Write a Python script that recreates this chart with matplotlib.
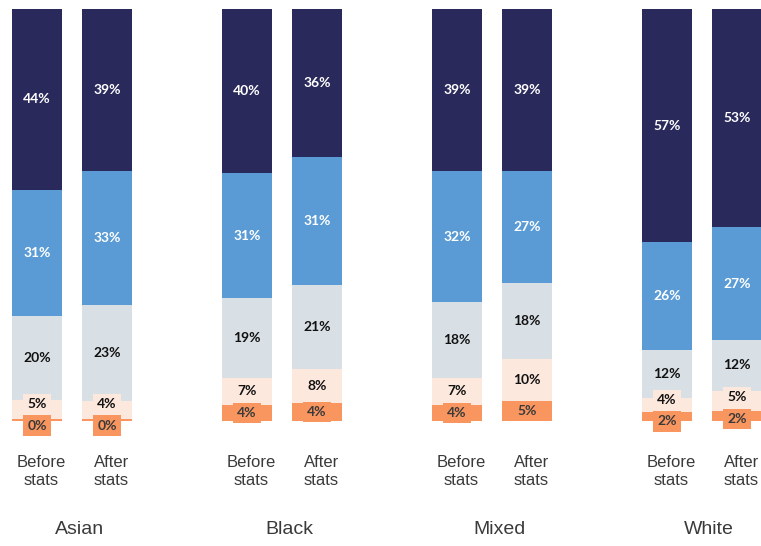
import matplotlib.pyplot as plt
import numpy as np

groups = ['Asian', 'Black', 'Mixed', 'White']
stages = ['Before\nstats', 'After\nstats']

# share of each band (%), bottom -> top, one row per bar: Before, After for each group
orange = [[0.3, 0.4], [3.8, 4.2], [3.8, 4.8], [2.0, 2.4]]
peach = [[4.6, 4.4], [6.6, 8.3], [6.6, 10.1], [3.6, 4.9]]
grey = [[20.5, 23.3], [19.3, 20.6], [18.4, 18.5], [11.5, 12.3]]
blue = [[30.8, 32.6], [30.6, 31.0], [31.8, 27.2], [26.3, 27.4]]
navy = [[43.8, 39.3], [39.7, 35.9], [39.4, 39.4], [56.6, 53.0]]

bands = [orange, peach, grey, blue, navy]
colors = ['#F9955F', '#FDE8DD', '#D8E0E5', '#5A9BD5', '#2A295C']
text_colors = ['#3A3A3A', '#111111', '#111111', 'white', 'white']

fig = plt.figure(figsize=(7.61, 5.46), dpi=100)
ax = fig.add_axes([0, 0, 1, 1])
ax.set_xlim(-0.343, 3.281)
ax.set_ylim(-30.5, 102.3)
ax.axis('off')

width = 0.238
offsets = [-0.1667, 0.1667]
min_gap = 5.2

for g, grp in enumerate(groups):
    for s in range(2):
        x = g + offsets[s]
        bottom = 0.0
        centers = []
        for b, band in enumerate(bands):
            v = band[g][s]
            ax.bar(x, v, width=width, bottom=bottom, color=colors[b],
                   edgecolor='none', zorder=1)
            centers.append(bottom + v / 2)
            bottom += v
        # push the two small bottom labels apart so they don't overlap
        if centers[1] - centers[0] < min_gap:
            mid = (centers[0] + centers[1]) / 2
            centers[0] = mid - min_gap / 2
            centers[1] = mid + min_gap / 2
        for b, band in enumerate(bands):
            v = band[g][s]
            ax.text(x, centers[b], f'{v:.0f}%', ha='center', va='center',
                    fontsize=10, fontweight='bold', family='Lato',
                    color=text_colors[b], zorder=3,
                    bbox=dict(boxstyle='square,pad=0.3', fc=colors[b], ec='none'))
        ax.text(x + 0.02, -12.3, stages[s], ha='center', va='center',
                fontsize=12, family='Liberation Sans', color='#3a3a3a',
                linespacing=1.25)
    ax.text(g + 0.035, -26.6, grp, ha='center', va='center', fontsize=14,
            family='Liberation Sans', color='#3a3a3a')

fig.savefig('out.png', dpi=100)
